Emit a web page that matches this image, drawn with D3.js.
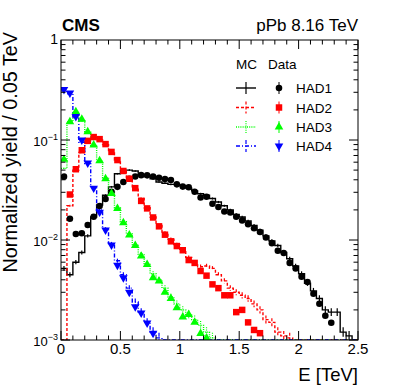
<!DOCTYPE html>
<html>
<head>
<meta charset="utf-8">
<script src="https://cdn.jsdelivr.net/npm/d3@7"></script>
<style>
  body { margin: 0; background: #fff; }
  text { font-family: "Liberation Sans", Arial, Helvetica, sans-serif; }
</style>
</head>
<body>
<div id="chart"></div>
<script>
// ┌──────────────────────────┐
// │   Data (0.05 TeV bins)   │
// └──────────────────────────┘
const binWidth = 0.05;
const xTicks = [0, 0.5, 1, 1.5, 2, 2.5];
const yTicks = [1e-3, 1e-2, 1e-1, 1];
const seriesNames = ["HAD1", "HAD2", "HAD3", "HAD4"];

// data points, null = below the plotted range
const had1Data = [0.043, 0.0163, 0.0115, 0.0117, 0.0141, 0.0171, 0.0219, 0.0257, 0.0303, 0.034,
  0.038, 0.041, 0.0432, 0.0445, 0.0443, 0.0432, 0.042, 0.0407, 0.0398, 0.036,
  0.0342, 0.0337, 0.0304, 0.0266, 0.0271, 0.023, 0.0214, 0.0193, 0.0188, 0.0171,
  0.0157, 0.0144, 0.0131, 0.012, 0.0106, 0.0093, 0.0078, 0.0074, 0.0059, 0.0052,
  0.0043, 0.0038, 0.0029, 0.0023, 0.00175, 0.00149];
const had2Data = [null, 0.0285, 0.051, 0.079, 0.098, 0.107, 0.102, 0.091, 0.076, 0.063,
  0.049, 0.041, 0.033, 0.0246, 0.0207, 0.0168, 0.0137, 0.0113, 0.0097, 0.0087,
  0.0079, 0.0063, 0.0059, 0.0049, 0.0044, 0.0036, 0.0033, 0.0028, 0.0028, 0.0019,
  0.002, 0.0015, 0.00126, 0.00117];
const had3Data = [0.064, 0.152, 0.192, 0.161, 0.121, 0.089, 0.062, 0.041, 0.0292, 0.0207,
  0.0149, 0.0112, 0.0088, 0.0069, 0.0057, 0.0042, 0.0039, 0.003, 0.0026, 0.0021,
  0.0017, 0.0018, 0.0015, 0.00116, 0.00105];
const had4Data = [0.32, 0.295, 0.172, 0.1, 0.059, 0.033, 0.019, 0.0126, 0.0089, 0.0056,
  0.0042, 0.003, 0.00215, 0.00186, 0.00148, 0.00117];

// MC histograms, 0 = below the plotted range
const had1MC = [0.0052, 0.0045, 0.006, 0.0075, 0.011, 0.017, 0.0224, 0.028, 0.034, 0.046,
  0.05, 0.05, 0.049, 0.045, 0.043, 0.041, 0.038, 0.037, 0.036, 0.036,
  0.035, 0.033, 0.031, 0.029, 0.028, 0.026, 0.024, 0.022, 0.02, 0.018,
  0.017, 0.0155, 0.014, 0.0125, 0.011, 0.0098, 0.0088, 0.0075, 0.0065, 0.0055,
  0.0046, 0.0037, 0.0031, 0.0026, 0.002, 0.0019, 0.0019, 0.0012, 0.0011, 0];
const had2MC = [0, 0.022, 0.05, 0.075, 0.098, 0.105, 0.1, 0.09, 0.077, 0.063,
  0.05, 0.04, 0.033, 0.026, 0.021, 0.017, 0.014, 0.0118, 0.0102, 0.009,
  0.0079, 0.0067, 0.0058, 0.0054, 0.0055, 0.0052, 0.0045, 0.0039, 0.0033, 0.003,
  0.0028, 0.0026, 0.0023, 0.002, 0.0016, 0.0015, 0.0012, 0.0011, 0.00105, 0,
  0, 0, 0, 0, 0, 0, 0, 0, 0, 0];
const had3MC = [0.052, 0.152, 0.19, 0.155, 0.12, 0.088, 0.062, 0.042, 0.03, 0.021,
  0.0152, 0.0115, 0.009, 0.0072, 0.0058, 0.0046, 0.004, 0.0033, 0.0027, 0.0023,
  0.002, 0.0018, 0.0016, 0.0014, 0.0012, 0.00105, 0, 0, 0, 0,
  0, 0, 0, 0, 0, 0, 0, 0, 0, 0,
  0, 0, 0, 0, 0, 0, 0, 0, 0, 0];
const had4MC = [0.31, 0.29, 0.17, 0.095, 0.058, 0.034, 0.02, 0.013, 0.0092, 0.0062,
  0.0045, 0.0033, 0.0024, 0.0019, 0.0015, 0.0012, 0.00105, 0, 0, 0,
  0, 0, 0, 0, 0, 0, 0, 0, 0, 0,
  0, 0, 0, 0, 0, 0, 0, 0, 0, 0,
  0, 0, 0, 0, 0, 0, 0, 0, 0, 0];

const series = [
  { name: seriesNames[0], data: had1Data, mc: had1MC, color: "#000000", dash: null, symbol: d3.symbolCircle, size: 34, rot: 0 },
  { name: seriesNames[1], data: had2Data, mc: had2MC, color: "#ff0000", dash: "3,2", symbol: d3.symbolSquare, size: 42, rot: 0 },
  { name: seriesNames[2], data: had3Data, mc: had3MC, color: "#00ff00", dash: "1,1.2", symbol: d3.symbolTriangle, size: 32, rot: 0 },
  { name: seriesNames[3], data: had4Data, mc: had4MC, color: "#0000ff", dash: "4,2,1,2", symbol: d3.symbolTriangle, size: 32, rot: 180 }
];

// ┌──────────────┐
// │   Layout     │
// └──────────────┘
const W = 407, H = 391;
const L = 61, R = 358, T = 40, B = 340;

const svg = d3.select("#chart").append("svg")
  .attr("width", W).attr("height", H);

const x = d3.scaleLinear().domain([0, 2.5]).range([L, R]);
const y = d3.scaleLog().domain([1e-3, 1]).range([B, T]).clamp(true);
const yv = v => y(Math.max(v, 1e-3));

svg.append("clipPath").attr("id", "clip")
  .append("rect").attr("x", L).attr("y", T).attr("width", R - L).attr("height", B - T);

const plot = svg.append("g").attr("clip-path", "url(#clip)");

// ┌────────────────────┐
// │   MC histograms    │
// └────────────────────┘
const step = d3.line()
  .x(d => x(d[0]))
  .y(d => yv(d[1]))
  .curve(d3.curveStepAfter);

series.forEach(s => {
  const pts = s.mc.map((v, i) => [i * binWidth, v]);
  pts.push([s.mc.length * binWidth, s.mc[s.mc.length - 1]]);
  plot.append("path")
    .attr("d", step(pts))
    .attr("fill", "none")
    .attr("stroke", s.color)
    .attr("stroke-width", 1.4)
    .attr("stroke-dasharray", s.dash);

  // small MC stat error bars at bin centres
  plot.append("g").selectAll("line")
    .data(s.mc.map((v, i) => [i, v]).filter(d => d[1] > 1e-3))
    .join("line")
    .attr("x1", d => x((d[0] + 0.5) * binWidth))
    .attr("x2", d => x((d[0] + 0.5) * binWidth))
    .attr("y1", d => yv(d[1]) - Math.min(6, 3 * Math.sqrt(0.003 / d[1])))
    .attr("y2", d => yv(d[1]) + Math.min(6, 3 * Math.sqrt(0.003 / d[1])))
    .attr("stroke", s.color)
    .attr("stroke-width", 1.2)
    .attr("stroke-dasharray", s.dash);
});

// ┌──────────────────┐
// │   Data markers   │
// └──────────────────┘
series.forEach(s => {
  plot.append("g").selectAll("path")
    .data(s.data.map((v, i) => [i, v]).filter(d => d[1] !== null))
    .join("path")
    .attr("d", d3.symbol().type(s.symbol).size(s.size))
    .attr("transform", d => `translate(${x((d[0] + 0.5) * binWidth)},${yv(d[1])}) rotate(${s.rot})`)
    .attr("fill", s.color);
});

// ┌──────────────────┐
// │   Frame & axes   │
// └──────────────────┘
svg.append("rect")
  .attr("x", L).attr("y", T).attr("width", R - L).attr("height", B - T)
  .attr("fill", "none").attr("stroke", "#000").attr("stroke-width", 1);

const ax = svg.append("g").attr("stroke", "#000").attr("stroke-width", 1);
d3.range(0, 26).forEach(k => {
  const len = k % 5 === 0 ? 9 : 4.5;
  const px = x(k * 0.1);
  ax.append("line").attr("x1", px).attr("x2", px).attr("y1", B).attr("y2", B - len);
  ax.append("line").attr("x1", px).attr("x2", px).attr("y1", T).attr("y2", T + len);
});
[1e-3, 1e-2, 1e-1].forEach(dec => {
  d3.range(1, 10).forEach(m => {
    const py = y(dec * m);
    const len = m === 1 ? 9 : 4.5;
    ax.append("line").attr("x1", L).attr("x2", L + len).attr("y1", py).attr("y2", py);
    ax.append("line").attr("x1", R).attr("x2", R - len).attr("y1", py).attr("y2", py);
  });
});

// x tick labels
svg.append("g").selectAll("text")
  .data(xTicks)
  .join("text")
  .attr("x", d => x(d))
  .attr("y", 354)
  .attr("text-anchor", "middle")
  .attr("font-size", 15)
  .text(d => d);

// y tick labels (10^n)
yTicks.forEach(v => {
  const py = y(v);
  if (v === 1) {
    svg.append("text").attr("x", 58).attr("y", py + 4)
      .attr("text-anchor", "end").attr("font-size", 14).text("1");
  } else {
    const t = svg.append("text").attr("x", 58).attr("y", py + 6)
      .attr("text-anchor", "end").attr("font-size", 13);
    t.append("tspan").text("10");
    t.append("tspan").attr("font-size", 9).attr("dy", -6).text("\u2212" + Math.round(-Math.log10(v)));
  }
});

// axis titles
svg.append("text")
  .attr("x", R).attr("y", 381)
  .attr("text-anchor", "end")
  .attr("font-size", 18.5)
  .text("E [TeV]");

svg.append("text")
  .attr("transform", "translate(17,32) rotate(-90)")
  .attr("text-anchor", "end")
  .attr("font-size", 19.8)
  .text("Normalized yield / 0.05 TeV");

// header
svg.append("text")
  .attr("x", 62).attr("y", 31)
  .attr("font-size", 17).attr("font-weight", "bold")
  .text("CMS");

svg.append("text")
  .attr("x", R).attr("y", 31)
  .attr("text-anchor", "end")
  .attr("font-size", 17)
  .text("pPb 8.16 TeV");

// ┌──────────────┐
// │   Legend     │
// └──────────────┘
const leg = svg.append("g");
leg.append("text").attr("x", 236).attr("y", 69).attr("font-size", 13.5).text("MC");
leg.append("text").attr("x", 268).attr("y", 69).attr("font-size", 13.5).text("Data");

const rowY = [88, 107.5, 127, 146];
series.forEach((s, i) => {
  const ry = rowY[i];
  leg.append("line").attr("x1", 236).attr("x2", 256).attr("y1", ry).attr("y2", ry)
    .attr("stroke", s.color).attr("stroke-width", 1.4).attr("stroke-dasharray", s.dash);
  leg.append("line").attr("x1", 246).attr("x2", 246).attr("y1", ry - 6).attr("y2", ry + 6)
    .attr("stroke", s.color).attr("stroke-width", 1.2).attr("stroke-dasharray", s.dash);
  leg.append("line").attr("x1", 279).attr("x2", 279).attr("y1", ry - 6).attr("y2", ry + 6)
    .attr("stroke", s.color).attr("stroke-width", 1);
  leg.append("path")
    .attr("d", d3.symbol().type(s.symbol).size(s.size))
    .attr("transform", `translate(279,${ry}) rotate(${s.rot})`)
    .attr("fill", s.color);
  leg.append("text").attr("x", 296).attr("y", ry + 5)
    .attr("font-size", 13.5).text(s.name);
});
</script>
</body>
</html>
